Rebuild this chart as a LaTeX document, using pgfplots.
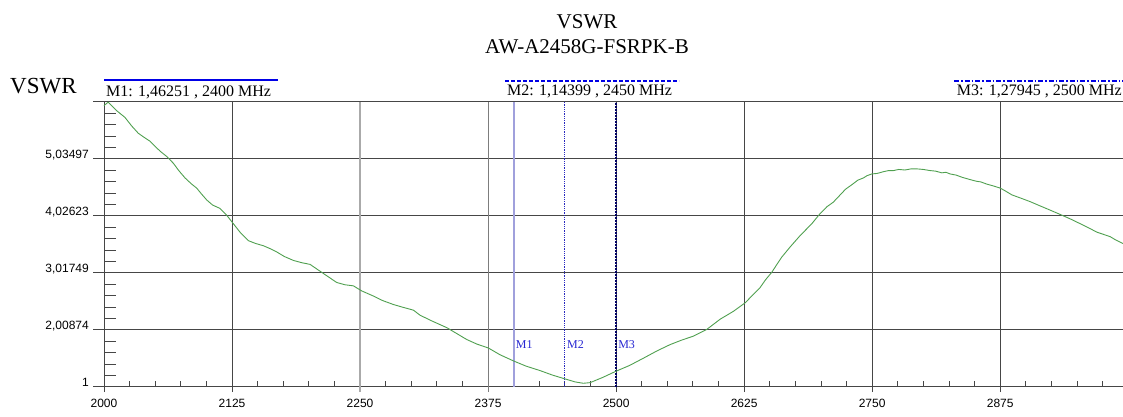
\documentclass[border=0pt]{standalone}
\usepackage{pgfplots}
\pgfplotsset{compat=1.18}
\usepackage{fontspec}
\setmainfont{Liberation Serif}
\newfontfamily\arial{Liberation Sans}
\definecolor{curvec}{RGB}{80,160,80}
\definecolor{gridc}{RGB}{70,70,70}
\definecolor{gridl}{RGB}{170,170,170}
\definecolor{gridm}{RGB}{125,125,125}
\definecolor{mblue}{RGB}{0,0,230}
\definecolor{mone}{RGB}{160,160,220}
\definecolor{mtwo}{RGB}{40,40,190}
\definecolor{mthree}{RGB}{0,0,100}
\definecolor{mlab}{RGB}{40,40,210}
\begin{document}
\begin{tikzpicture}
\useasboundingbox (0,0) rectangle (1123pt,417pt);
\begin{axis}[
  at={(104pt,30pt)}, anchor=south west,
  scale only axis, width=1019pt, height=285pt,
  xmin=2000, xmax=2995, ymin=1, ymax=6.04371,
  axis line style={draw=none},
  tick style={draw=none},
  major tick length=0pt, minor tick num=0,
  xtick={2000,2125,2250,2375,2500,2625,2750,2875},
  xticklabels={2000,2125,2250,2375,2500,2625,2750,2875},
  ytick={1,2.00874,3.01749,4.02623,5.03497},
  yticklabels={1,{2,00874},{3,01749},{4,02623},{5,03497}},
  xticklabel style={anchor=north, inner sep=0pt, yshift=-12pt, font=\arial\fontsize{12}{14}\selectfont},
  yticklabel style={anchor=base east, inner sep=0pt, xshift=-15pt, font=\arial\fontsize{12}{14}\selectfont},
  clip=false,
]
% horizontal grid lines
\pgfplotsinvokeforeach{1,2.00874,3.01749,4.02623,5.03497,6.04371}{
  \draw[gridc, line width=1pt] (axis cs:1989.26,#1) -- (axis cs:2995,#1);
}
% vertical grid lines
\pgfplotsinvokeforeach{2000,2125,2500,2625,2750,2875}{
  \draw[gridc, line width=1pt] (axis cs:#1,0.9115) -- (axis cs:#1,6.04371);
}
\draw[gridl, line width=1.2pt] (axis cs:2250,0.9115) -- (axis cs:2250,6.04371);
\draw[gridm, line width=1pt] (axis cs:2375,0.9115) -- (axis cs:2375,6.04371);
% minor ticks
\pgfplotsinvokeforeach{2025,2050,2075,2100,2150,2175,2200,2225,2275,2300,2325,2350,2400,2425,2450,2475,2525,2550,2575,2600,2650,2675,2700,2725,2775,2800,2825,2850,2900,2925,2950,2975}{
  \draw[gridc, line width=0.9pt] (axis cs:#1,1) -- (axis cs:#1,1.10618);
}
\pgfplotsinvokeforeach{1.20175,1.40350,1.60524,1.80699,2.21049,2.41224,2.61399,2.81574,3.21924,3.42098,3.62273,3.82448,4.22798,4.42972,4.63147,4.83322,5.23672,5.43847,5.64021,5.84196}{
  \draw[gridc, line width=0.9pt] (axis cs:2000,#1) -- (axis cs:2011.72,#1);
}
% marker lines
\draw[mone, line width=2pt] (axis cs:2400,1) -- (axis cs:2400,6.04371);
\draw[mtwo, line width=0.8pt, densely dotted] (axis cs:2450,1) -- (axis cs:2450,6.04371);
\draw[mthree, line width=1.3pt, dash pattern=on 2pt off 1pt] (axis cs:2500,1) -- (axis cs:2500,6.04371);
\node[anchor=base west, inner sep=0pt, xshift=2pt, text=mlab, font=\fontsize{12}{14}\selectfont] at (axis cs:2400,1.68) {M1};
\node[anchor=base west, inner sep=0pt, xshift=2pt, text=mlab, font=\fontsize{12}{14}\selectfont] at (axis cs:2450,1.68) {M2};
\node[anchor=base west, inner sep=0pt, xshift=2pt, text=mlab, font=\fontsize{12}{14}\selectfont] at (axis cs:2500,1.68) {M3};
% VSWR curve
\addplot[curvec, line width=0.9pt] coordinates {
(2000,5.98) (2004,6.04) (2008,5.97) (2012.4,5.89) (2020.5,5.77) (2027,5.62) (2033.5,5.49) (2039,5.42) (2044.9,5.35) (2049.8,5.26) (2055,5.17) (2061.2,5.08) (2067.7,4.96) (2073,4.83) (2079.1,4.70) (2085,4.60) (2090.5,4.52) (2095,4.42) (2100.3,4.31) (2106,4.22) (2113.3,4.16) (2119.8,4.04) (2126.3,3.89) (2132.8,3.74) (2140.9,3.59) (2148,3.54) (2155.6,3.50) (2162,3.45) (2168.7,3.39) (2176,3.31) (2184.9,3.24) (2193,3.20) (2201.2,3.17) (2206,3.11) (2210.9,3.05) (2219,2.95) (2227.2,2.85) (2235,2.81) (2243.5,2.79) (2251.7,2.70) (2263,2.61) (2272,2.53) (2282.5,2.46) (2292,2.41) (2302.1,2.36) (2308.6,2.27) (2320,2.17) (2334.7,2.05) (2344,1.95) (2354.2,1.84) (2364,1.76) (2375.3,1.69) (2386.7,1.57) (2400,1.46) (2412,1.37) (2425.8,1.29) (2438,1.21) (2450,1.144) (2460,1.09) (2468,1.066) (2474.6,1.077) (2487,1.17) (2500,1.28) (2513,1.38) (2526.7,1.51) (2540,1.64) (2552.7,1.75) (2564,1.83) (2575.5,1.90) (2588.6,2.02) (2601.6,2.20) (2614.6,2.34) (2626,2.49) (2633,2.62) (2640.6,2.76) (2646,2.90) (2652,3.03) (2657,3.17) (2661.8,3.30) (2670,3.48) (2679.7,3.68) (2691.1,3.89) (2699.2,4.07) (2705.8,4.19) (2712,4.27) (2718.8,4.40) (2724,4.50) (2730.2,4.58) (2736,4.66) (2741.5,4.70) (2745,4.74) (2749.7,4.77) (2755,4.78) (2761,4.81) (2766,4.83) (2770.8,4.83) (2776,4.85) (2782,4.84) (2788,4.86) (2793.6,4.86) (2800,4.85) (2806.6,4.83) (2812,4.82) (2818,4.79) (2822,4.80) (2826.2,4.77) (2832,4.75) (2838,4.71) (2845.7,4.67) (2852,4.64) (2856,4.63) (2862,4.59) (2868,4.56) (2875,4.52) (2880,4.47) (2886.4,4.40) (2894,4.35) (2904.3,4.28) (2912,4.22) (2923.8,4.13) (2935.3,4.04) (2944,3.97) (2953.1,3.89) (2961,3.82) (2969.4,3.74) (2976,3.70) (2982.4,3.66) (2988,3.60) (2994.8,3.54)
};
\end{axis}
% titles
\node[font=\fontsize{21}{24}\selectfont, inner sep=0pt] at (587pt,395.5pt) {VSWR};
\node[font=\fontsize{21}{24}\selectfont, inner sep=0pt] at (587pt,370.5pt) {AW-A2458G-FSRPK-B};
\node[anchor=base west, inner sep=0pt, font=\fontsize{23}{26}\selectfont] at (10pt,323pt) {VSWR};
% marker legend
\draw[mblue, line width=2pt] (104pt,336.7pt) -- (278pt,336.7pt);
\node[anchor=base west, inner sep=0pt, font=\fontsize{16}{18}\selectfont] at (106pt,320.5pt) {M1: 1,46251 , 2400 MHz};
\draw[mblue, line width=2pt, dash pattern=on 4pt off 2pt] (505pt,336.3pt) -- (679pt,336.3pt);
\node[anchor=base west, inner sep=0pt, font=\fontsize{16}{18}\selectfont] at (507pt,321pt) {M2: 1,14399 , 2450 MHz};
\draw[mblue, line width=2pt, dash pattern=on 5pt off 2pt on 1.5pt off 2pt] (954pt,336.3pt) -- (1123pt,336.3pt);
\node[anchor=base east, inner sep=0pt, font=\fontsize{16}{18}\selectfont] at (1122pt,321pt) {M3: 1,27945 , 2500 MHz};
\end{tikzpicture}
\end{document}
